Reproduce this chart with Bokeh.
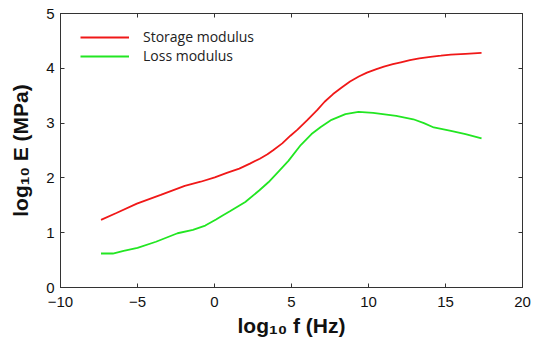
from bokeh.plotting import figure
from bokeh.models import Range1d, LinearAxis, FixedTicker, Legend, LegendItem
from bokeh.embed import file_html
from bokeh.resources import INLINE

# data (log10 f in Hz, log10 E in MPa)
storage_x = [-7.37, -6.37, -5.04, -3.49, -1.93, -0.9, 0.02, 0.8, 1.61, 2.3, 2.94, 3.44, 3.83, 4.4, 4.93, 5.39, 6.04, 6.68, 7.15, 7.7, 8.26, 8.8, 9.37, 9.9, 10.47, 11.0, 11.58, 12.1, 12.69, 13.3, 14.02, 14.7, 15.35, 16.3, 17.34]
storage_y = [1.235, 1.36, 1.53, 1.69, 1.855, 1.93, 2.01, 2.09, 2.17, 2.26, 2.35, 2.43, 2.51, 2.63, 2.77, 2.88, 3.06, 3.24, 3.39, 3.53, 3.65, 3.76, 3.85, 3.92, 3.98, 4.03, 4.075, 4.11, 4.15, 4.18, 4.21, 4.23, 4.25, 4.265, 4.28]
loss_x = [-7.37, -6.6, -5.9, -5.0, -3.8, -2.4, -1.4, -0.6, 0.1, 0.5, 1.0, 2.0, 2.9, 3.5, 4.2, 4.8, 5.6, 6.3, 6.9, 7.6, 8.5, 9.35, 10.3, 11.8, 12.91, 13.6, 14.24, 14.8, 15.35, 16.3, 17.34]
loss_y = [0.62, 0.62, 0.67, 0.725, 0.835, 0.99, 1.05, 1.13, 1.24, 1.31, 1.39, 1.56, 1.77, 1.92, 2.13, 2.31, 2.6, 2.8, 2.93, 3.06, 3.165, 3.205, 3.185, 3.13, 3.07, 3.0, 2.92, 2.89, 2.86, 2.8, 2.72]
x_ticks = [-10, -5, 0, 5, 10, 15, 20]
y_ticks = [0, 1, 2, 3, 4, 5]
series_names = ["Storage modulus", "Loss modulus"]
series_colors = ["#f01818", "#22e622"]

AX = "#333333"
p = figure(frame_width=462, frame_height=274, output_backend="svg", toolbar_location=None,
           x_range=Range1d(-10, 20), y_range=Range1d(0, 5),
           min_border_left=60, min_border_right=12, min_border_top=13, min_border_bottom=56,
           x_axis_label="log\u2081\u2080 f (Hz)", y_axis_label="log\u2081\u2080 E (MPa)")
p.grid.visible = False
p.outline_line_color = AX
p.outline_line_width = 1

for ax in (p.xaxis[0], p.yaxis[0]):
    ax.major_label_text_font = "Liberation Sans"
    ax.major_label_text_font_size = "15px"
    ax.major_label_text_color = "#111111"
    ax.axis_label_text_font = "Liberation Sans"
    ax.axis_label_text_font_style = "bold"
    ax.axis_label_text_font_size = "21px"
    ax.axis_label_text_color = "#111111"
    ax.axis_line_color = AX
    ax.major_tick_line_color = AX
    ax.major_tick_in = 4
    ax.major_tick_out = 0
    ax.minor_tick_line_color = None
p.xaxis[0].ticker = FixedTicker(ticks=x_ticks)
p.yaxis[0].ticker = FixedTicker(ticks=y_ticks)
p.xaxis[0].major_label_standoff = 9
p.xaxis[0].axis_label_standoff = 4
p.yaxis[0].major_label_standoff = 6
p.yaxis[0].axis_label_standoff = 11

top = LinearAxis(ticker=FixedTicker(ticks=x_ticks), major_label_text_font_size="1px",
                 major_label_text_color=None,
                 major_label_standoff=0, major_tick_in=4, major_tick_out=0,
                 minor_tick_line_color=None, axis_line_color=AX, major_tick_line_color=AX)
right = LinearAxis(ticker=FixedTicker(ticks=y_ticks), major_label_text_font_size="1px",
                   major_label_text_color=None,
                   major_label_standoff=0, major_tick_in=4, major_tick_out=0,
                   minor_tick_line_color=None, axis_line_color=AX, major_tick_line_color=AX)
p.add_layout(top, "above")
p.add_layout(right, "right")

r1 = p.line(storage_x, storage_y, line_color=series_colors[0], line_width=1.8)
r2 = p.line(loss_x, loss_y, line_color=series_colors[1], line_width=1.8)

legend = Legend(items=[LegendItem(label=series_names[0], renderers=[r1]),
                       LegendItem(label=series_names[1], renderers=[r2])],
                location=(20, 222), padding=0, margin=0, spacing=0,
                glyph_width=49, glyph_height=18, label_height=18, label_standoff=14,
                label_text_font="Open Sans", label_text_font_size="14px", label_text_color="#222222",
                border_line_alpha=0, background_fill_alpha=0)
p.add_layout(legend)

open("out.html", "w").write(file_html(p, INLINE))
